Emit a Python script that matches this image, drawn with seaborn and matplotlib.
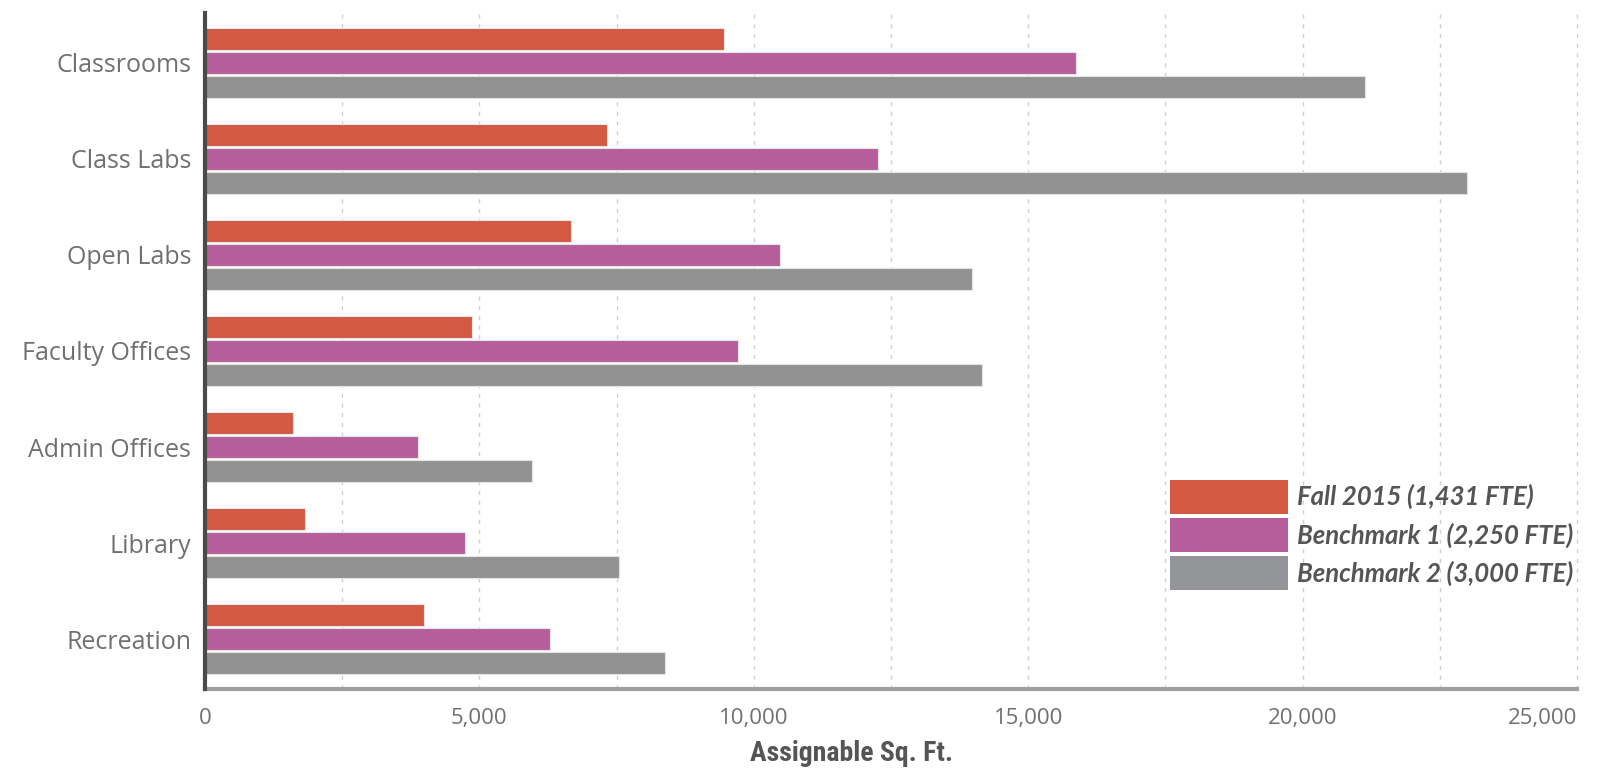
import matplotlib
matplotlib.use("Agg")
import matplotlib.pyplot as plt
import matplotlib.ticker as mticker
from matplotlib.patches import Patch
import numpy as np
import pandas as pd
import seaborn as sns

categories = ["Classrooms", "Class Labs", "Open Labs", "Faculty Offices",
              "Admin Offices", "Library", "Recreation"]
series_names = ["Fall 2015 (1,431 FTE)", "Benchmark 1 (2,250 FTE)", "Benchmark 2 (3,000 FTE)"]
fall_2015 = [9460, 7320, 6670, 4870, 1600, 1820, 3990]
benchmark_1 = [15870, 12260, 10480, 9710, 3880, 4740, 6290]
benchmark_2 = [21130, 23000, 13980, 14160, 5960, 7540, 8380]
colors = ["#D35A40", "#B65E9B", "#929292"]
legend_colors = ["#D35A40", "#B65E9B", "#939598"]
x_ticks = [0, 5000, 10000, 15000, 20000, 25000]
grid_step = 2500
x_max = 25000

rows = []
for name, vals in zip(series_names, [fall_2015, benchmark_1, benchmark_2]):
    for cat, v in zip(categories, vals):
        rows.append({"Category": cat, "Series": name, "Value": v})
df = pd.DataFrame(rows)

sns.set_style("white")
plt.rcParams["font.family"] = ["Open Sans", "DejaVu Sans"]

fig = plt.figure(figsize=(16.05, 7.74), dpi=100)
ax = fig.add_axes([205 / 1605, 85 / 774, 1372 / 1605, 676 / 774])

sns.barplot(data=df, y="Category", x="Value", hue="Series", order=categories,
            hue_order=series_names, palette=colors, saturation=1, orient="h",
            width=0.75, gap=0.1, edgecolor="#e4e4e4", linewidth=0.8, ax=ax,
            legend=False, zorder=3)

ax.set_xlim(0, x_max)
ax.set_ylim(len(categories) - 0.48, -0.52)
ax.set_xticks(x_ticks)
ax.xaxis.set_major_formatter(mticker.FuncFormatter(lambda v, p: f"{int(v):,}"))
ax.grid(False)

# dashed vertical guides every 2,500 sq. ft.
grid_x = np.arange(grid_step, x_max + 1, grid_step)
ax.vlines(grid_x, 0, 1, transform=ax.get_xaxis_transform(), colors="#d0d0d0",
          linestyles=(0, (3, 4)), linewidth=1.0, zorder=0, clip_on=False)

for s in ["top", "right"]:
    ax.spines[s].set_visible(False)
ax.spines["left"].set_color("#4a4a4a")
ax.spines["left"].set_linewidth(3)
ax.spines["left"].set_zorder(4)
ax.spines["bottom"].set_color("#a0a0a0")
ax.spines["bottom"].set_linewidth(3)
ax.tick_params(axis="both", which="both", length=0)
ax.tick_params(axis="y", labelsize=18, labelcolor="#707070", pad=10)
ax.tick_params(axis="x", labelsize=16, labelcolor="#707070", pad=14)
xlabels = ax.get_xticklabels()
xlabels[-1].set_horizontalalignment("right")

ax.set_ylabel("")
ax.set_xlabel("Assignable Sq. Ft.", fontsize=20, fontweight="bold", color="#555555",
              family=["Roboto Condensed", "Roboto", "DejaVu Sans"],
              fontstretch="condensed")
ax.xaxis.set_label_coords((851 - 205) / 1372, -0.076)

handles = [Patch(facecolor=c, edgecolor="none") for c in legend_colors]
leg = fig.legend(handles, series_names, loc="upper left",
                 bbox_to_anchor=(1170 / 1605, 1 - 480 / 774), frameon=False,
                 prop={"family": ["Lato", "DejaVu Sans"], "style": "italic",
                       "weight": "bold", "size": 18.5},
                 handlelength=4.6, handleheight=1.63, labelspacing=0.18,
                 handletextpad=0.35, borderaxespad=0, borderpad=0)
for t in leg.get_texts():
    t.set_color("#555555")

fig.savefig("out.png", dpi=100, facecolor="white")
